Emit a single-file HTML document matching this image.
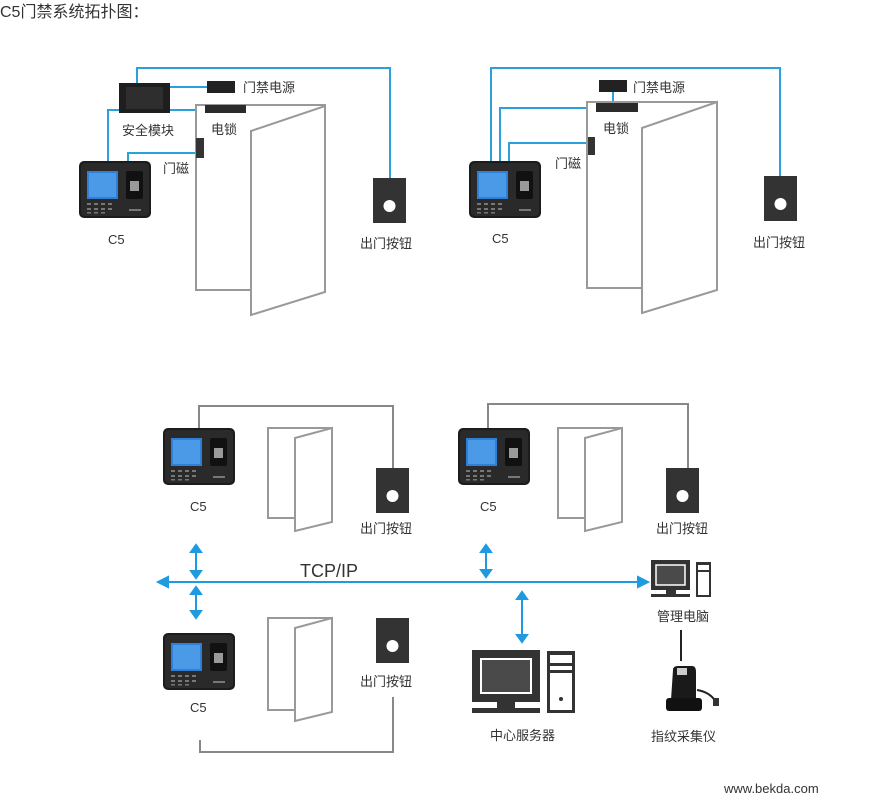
<!DOCTYPE html>
<html><head><meta charset="utf-8"><style>
html,body{margin:0;padding:0;background:#fff;width:890px;height:808px;overflow:hidden}
svg{display:block}
text{font-family:"Liberation Sans","Noto Sans CJK SC",sans-serif;fill:#333}
</style></head><body>
<svg width="890" height="808" viewBox="0 0 890 808" xmlns="http://www.w3.org/2000/svg">
<defs>
<g id="c5">
<rect x="0" y="0" width="72" height="57" rx="5" fill="#1c1c1c"/>
<rect x="2" y="2" width="68" height="53" rx="4" fill="#2a2a2a"/>
<rect x="8" y="10" width="31" height="28" fill="#2f7fd6"/>
<rect x="10" y="12" width="27" height="24" fill="#4a9ae8"/>
<rect x="47" y="10" width="17" height="28" rx="2" fill="#111"/>
<rect x="51" y="20" width="9" height="10" fill="#9a9a9a"/>
<g fill="#777"><rect x="8" y="42" width="4" height="2"/><rect x="15" y="42" width="4" height="2"/><rect x="22" y="42" width="4" height="2"/><rect x="29" y="42" width="4" height="2"/><rect x="8" y="47" width="4" height="2"/><rect x="15" y="47" width="4" height="2"/><rect x="22" y="47" width="4" height="2"/><rect x="29" y="47" width="4" height="2"/><rect x="8" y="51" width="4" height="1.5"/><rect x="15" y="51" width="4" height="1.5"/><rect x="22" y="51" width="4" height="1.5"/><rect x="50" y="48" width="12" height="2"/></g>
</g>
<g id="btn">
<rect x="0" y="0" width="33" height="45" fill="#333"/>
<circle cx="16.5" cy="28" r="6" fill="#fff"/>
</g>
</defs>

<text x="0" y="17" font-size="16" fill="#444">C5门禁系统拓扑图：</text>

<!-- Top-left diagram -->
<g fill="none" stroke="#2aa0dc" stroke-width="2">
<polyline points="137,84 137,68 390,68 390,178"/>
<line x1="170" y1="87" x2="207" y2="87"/>
<line x1="170" y1="110" x2="206" y2="110"/>
<polyline points="120,110 108,110 108,161"/>
<polyline points="128,161 128,153 197,153"/>
</g>
<rect x="119" y="83" width="51" height="30" fill="#1e1e1e"/>
<rect x="126" y="87" width="37" height="22" fill="#2e2e2e"/>
<rect x="207" y="81" width="28" height="12" fill="#222"/>
<text x="243" y="92" font-size="13">门禁电源</text>
<g fill="none" stroke="#999" stroke-width="2">
<rect x="196" y="105" width="129" height="185" fill="#fff"/>
<polygon points="251,131 325,106 325,292 251,315" fill="#fff"/>
</g>
<rect x="205" y="105" width="41" height="8" fill="#2b2b2b"/>
<rect x="196" y="138" width="8" height="20" fill="#333"/>
<text x="211" y="134" font-size="13">电锁</text>
<text x="122" y="135" font-size="13">安全模块</text>
<text x="163" y="173" font-size="13">门磁</text>
<use href="#c5" x="79" y="161"/>
<text x="108" y="244" font-size="13">C5</text>
<use href="#btn" x="373" y="178"/>
<text x="360" y="248" font-size="13">出门按钮</text>

<!-- Top-right diagram -->
<g fill="none" stroke="#2aa0dc" stroke-width="2">
<polyline points="491,161 491,68 780,68 780,177"/>
<polyline points="500,161 500,108 597,108"/>
<polyline points="509,161 509,143 589,143"/>
<line x1="613" y1="92" x2="613" y2="104"/>
</g>
<rect x="599" y="80" width="28" height="12" fill="#222"/>
<text x="633" y="92" font-size="13">门禁电源</text>
<g fill="none" stroke="#999" stroke-width="2">
<rect x="587" y="102" width="130" height="186" fill="#fff"/>
<polygon points="642,128 717,102 717,290 642,313" fill="#fff"/>
</g>
<rect x="596" y="103" width="42" height="9" fill="#2b2b2b"/>
<rect x="588" y="137" width="7" height="18" fill="#333"/>
<text x="603" y="133" font-size="13">电锁</text>
<text x="555" y="168" font-size="13">门磁</text>
<use href="#c5" x="469" y="161"/>
<text x="492" y="243" font-size="13">C5</text>
<use href="#btn" x="764" y="176"/>
<text x="753" y="247" font-size="13">出门按钮</text>

<!-- Bottom -->
<g fill="none" stroke="#888" stroke-width="2">
<polyline points="199,430 199,406 393,406 393,468"/>
<polyline points="488,430 488,404 688,404 688,468"/>
<polyline points="200,740 200,752 393,752 393,697"/>
</g>
<g fill="#fff" stroke="#999" stroke-width="2">
<rect x="268" y="428" width="64" height="90"/>
<polygon points="295,438 332,428 332,522 295,531"/>
<rect x="558" y="428" width="64" height="90"/>
<polygon points="585,438 622,428 622,522 585,531"/>
<rect x="268" y="618" width="64" height="92"/>
<polygon points="295,628 332,618 332,712 295,721"/>
</g>
<use href="#c5" x="163" y="428"/>
<use href="#c5" x="458" y="428"/>
<use href="#c5" x="163" y="633"/>
<use href="#btn" x="376" y="468"/>
<use href="#btn" x="666" y="468"/>
<use href="#btn" x="376" y="618"/>
<text x="190" y="511" font-size="13">C5</text>
<text x="480" y="511" font-size="13">C5</text>
<text x="190" y="712" font-size="13">C5</text>
<text x="360" y="533" font-size="13">出门按钮</text>
<text x="656" y="533" font-size="13">出门按钮</text>
<text x="360" y="686" font-size="13">出门按钮</text>

<!-- network -->
<g stroke="#1e9be0" stroke-width="2" fill="#1e9be0">
<line x1="162" y1="582" x2="644" y2="582"/>
<polygon points="158,582 168,577 168,587"/>
<polygon points="648,582 638,577 638,587"/>
<line x1="196" y1="548" x2="196" y2="575"/>
<polygon points="196,545 191,552 201,552"/><polygon points="196,578 191,571 201,571"/>
<line x1="196" y1="590" x2="196" y2="615"/>
<polygon points="196,587 191,594 201,594"/><polygon points="196,618 191,611 201,611"/>
<line x1="486" y1="548" x2="486" y2="574"/>
<polygon points="486,545 481,552 491,552"/><polygon points="486,577 481,570 491,570"/>
<line x1="522" y1="595" x2="522" y2="639"/>
<polygon points="522,592 517,599 527,599"/><polygon points="522,642 517,635 527,635"/>
</g>
<text x="300" y="577" font-size="18" fill="#444">TCP/IP</text>

<!-- server -->
<rect x="472" y="650" width="68" height="52" fill="#333"/>
<rect x="481" y="659" width="50" height="34" fill="#4a4a4a" stroke="#fff" stroke-width="2"/>
<rect x="497" y="702" width="18" height="7" fill="#333"/>
<rect x="472" y="708" width="68" height="5" fill="#333"/>
<rect x="547" y="651" width="28" height="62" fill="#333"/>
<rect x="550" y="655" width="22" height="55" fill="#fff"/>
<rect x="550" y="663" width="22" height="3" fill="#333"/><rect x="550" y="670" width="22" height="3" fill="#333"/>
<circle cx="561" cy="699" r="2" fill="#333"/>
<text x="490" y="740" font-size="13">中心服务器</text>

<!-- mgmt pc -->
<rect x="651" y="560" width="39" height="30" fill="#333"/>
<rect x="656" y="565" width="29" height="20" fill="#4a4a4a" stroke="#fff" stroke-width="1.5"/>
<rect x="666" y="590" width="10" height="4" fill="#333"/>
<rect x="651" y="594" width="39" height="3" fill="#333"/>
<rect x="696" y="562" width="15" height="35" fill="#333"/>
<rect x="698" y="565" width="11" height="30" fill="#fff"/>
<rect x="698" y="570" width="11" height="2" fill="#333"/>
<text x="657" y="621" font-size="13">管理电脑</text>
<line x1="681" y1="630" x2="681" y2="661" stroke="#222" stroke-width="2"/>

<!-- scanner -->
<path d="M673,670 Q673,666 678,666 L692,666 Q696,666 696,672 L696,700 L671,700 Z" fill="#1a1a1a"/>
<rect x="677" y="668" width="10" height="7" fill="#ccc"/>
<rect x="666" y="698" width="36" height="13" rx="3" fill="#111"/>
<path d="M697,690 Q710,692 716,702" stroke="#222" stroke-width="2" fill="none"/>
<rect x="713" y="698" width="6" height="8" fill="#333"/>
<text x="651" y="741" font-size="13">指纹采集仪</text>

<text x="724" y="793" font-size="13" fill="#bbb">www.bekda.com</text>
</svg>
</body></html>
